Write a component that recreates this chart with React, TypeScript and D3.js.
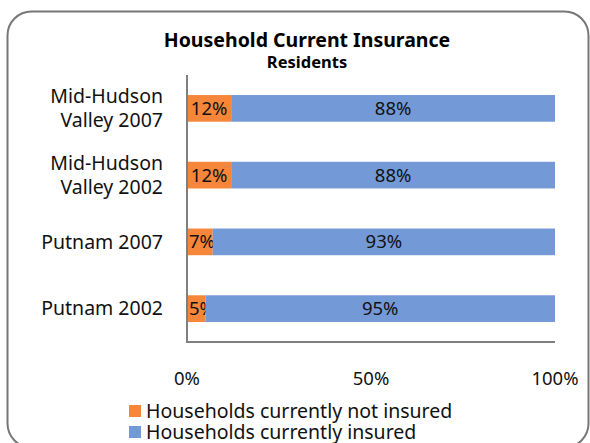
import React, { useEffect, useRef } from 'react';
import * as d3 from 'd3';

const categories = ['Mid-Hudson Valley 2007', 'Mid-Hudson Valley 2002', 'Putnam 2007', 'Putnam 2002'];
const categoryLines = [['Mid-Hudson', 'Valley 2007'], ['Mid-Hudson', 'Valley 2002'], ['Putnam 2007'], ['Putnam 2002']];
const notInsured = [12, 12, 7, 5];
const insured = [88, 88, 93, 95];
const seriesNames = ['Households currently not insured', 'Households currently insured'];
const seriesColors = ['#F6873A', '#7499D7'];
const tickValues = [0, 50, 100];

const W = 590;
const H = 443;
const FONT = 'Noto Sans, DejaVu Sans, sans-serif';

const App: React.FC = () => {
    const svgRef = useRef<SVGSVGElement | null>(null);

    useEffect(() => {
        if (svgRef.current) draw();
    }, []);

    const draw = () => {
        const svg = d3.select(svgRef.current);
        svg.selectAll('*').remove();

        // outer rounded frame
        svg.append('rect')
            .attr('x', 7.5).attr('y', 11.5)
            .attr('width', 581).attr('height', 436)
            .attr('rx', 24).attr('ry', 24)
            .attr('fill', '#fff')
            .attr('stroke', '#777').attr('stroke-width', 2);

        svg.append('text')
            .attr('x', 307).attr('y', 47)
            .attr('text-anchor', 'middle')
            .style('font-family', FONT).style('font-size', '19.5px').style('font-weight', 'bold')
            .text('Household Current Insurance');
        svg.append('text')
            .attr('x', 307).attr('y', 68)
            .attr('text-anchor', 'middle')
            .style('font-family', FONT).style('font-size', '16.5px').style('font-weight', 'bold')
            .text('Residents');

        const x = d3.scaleLinear().domain([0, 100]).range([187, 555]);
        const y = d3.scaleBand<string>().domain(categories).range([75, 342]).paddingInner(0.6).paddingOuter(0.3);

        const rows = categories.map((c, i) => ({ c, vals: [notInsured[i], insured[i]] }));
        const stack = d3.stack<any, string>()
            .keys(['0', '1'])
            .value((d, k) => d.vals[+k]);
        const layers = stack(rows as any);

        layers.forEach((layer, si) => {
            const g = svg.append('g');
            g.selectAll('rect')
                .data(layer)
                .enter()
                .append('rect')
                .attr('x', (d) => x(d[0]))
                .attr('y', (d: any) => y(d.data.c)!)
                .attr('width', (d) => x(d[1]) - x(d[0]))
                .attr('height', y.bandwidth())
                .attr('fill', seriesColors[si]);
            g.selectAll('text')
                .data(layer)
                .enter()
                .append('text')
                .attr('y', (d: any) => y(d.data.c)! + y.bandwidth() / 2)
                .attr('dy', '0.35em')
                .style('font-family', FONT).style('font-size', '18.5px')
                .attr('fill', '#111')
                .text((d: any) => `${d.data.vals[si]}%`)
                .each(function (d) {
                    // labels wider than their segment start at the bar's left edge
                    const el = this as SVGTextElement;
                    const tw = el.getComputedTextLength();
                    const segW = x(d[1]) - x(d[0]);
                    const cx = (x(d[0]) + x(d[1])) / 2;
                    const left = tw > segW - 2 ? x(d[0]) + 2 : cx - tw / 2;
                    d3.select(el).attr('x', left);
                });
        });

        // axes lines
        svg.append('path')
            .attr('d', `M${x(0)},${75}V${342}H${x(100)}`)
            .attr('fill', 'none').attr('stroke', '#808080').attr('stroke-width', 2);

        // category labels
        categoryLines.forEach((lines, i) => {
            const cy = y(categories[i])! + y.bandwidth() / 2;
            const t = svg.append('text')
                .attr('x', 163)
                .attr('text-anchor', 'end')
                .style('font-family', FONT).style('font-size', '19.5px')
                .attr('fill', '#111');
            lines.forEach((ln, j) => {
                t.append('tspan')
                    .attr('x', 163)
                    .attr('y', cy + (j - (lines.length - 1) / 2) * 24)
                    .attr('dy', '0.35em')
                    .text(ln);
            });
        });

        // tick labels
        svg.append('g')
            .selectAll('text')
            .data(tickValues)
            .enter()
            .append('text')
            .attr('x', (d) => x(d))
            .attr('y', 379)
            .attr('dy', '0.35em')
            .attr('text-anchor', 'middle')
            .style('font-family', FONT).style('font-size', '18.5px')
            .attr('fill', '#111')
            .text((d) => `${d}%`);

        // legend
        const lg = svg.append('g');
        seriesNames.forEach((name, i) => {
            const cy = 411 + i * 21;
            lg.append('rect')
                .attr('x', 129).attr('y', cy - 6)
                .attr('width', 12).attr('height', 12)
                .attr('fill', seriesColors[i]);
            lg.append('text')
                .attr('x', 146).attr('y', cy)
                .attr('dy', '0.35em')
                .style('font-family', FONT).style('font-size', '19.5px')
                .attr('fill', '#111')
                .text(name);
        });
    };

    return <svg ref={svgRef} width={W} height={H} style={{ position: 'absolute', left: 0, top: 0 }}></svg>;
};

export default App;
